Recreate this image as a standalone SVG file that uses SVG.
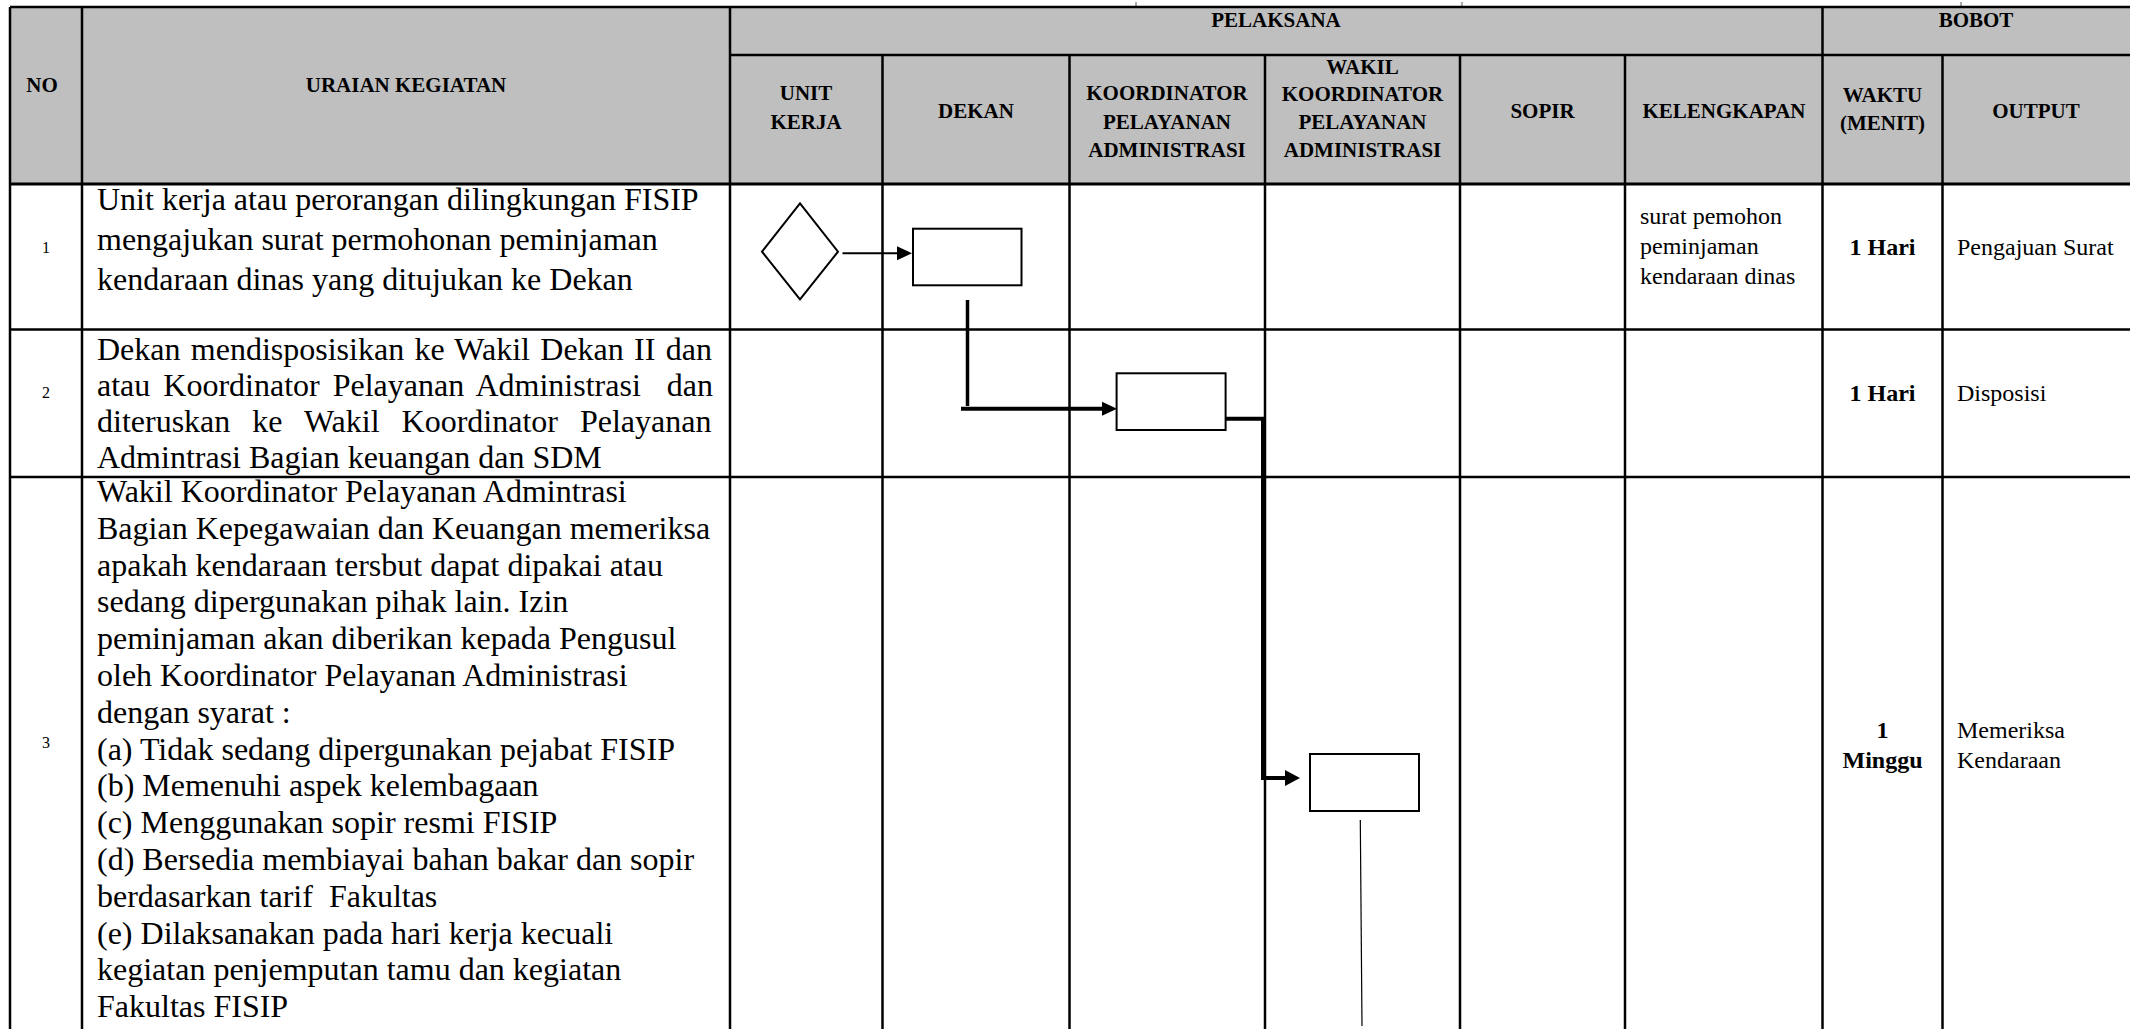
<svg xmlns="http://www.w3.org/2000/svg" width="2130" height="1029" viewBox="0 0 2130 1029">
<style>
.grid{stroke:#000;stroke-width:2.5;fill:none}
.tick{stroke:#555;stroke-width:1}
.hd{font-family:"Liberation Serif","Times New Roman",serif;font-weight:bold;font-size:21px;fill:#000;text-anchor:middle}
.body{font-family:"Liberation Serif","Times New Roman",serif;font-size:32px;fill:#000}
.num{font-family:"Liberation Serif","Times New Roman",serif;font-size:16px;fill:#000;text-anchor:middle}
.sm{font-family:"Liberation Serif","Times New Roman",serif;font-size:24px;fill:#000}
.smb{font-family:"Liberation Serif","Times New Roman",serif;font-size:24px;font-weight:bold;fill:#000;text-anchor:middle}
.shape{fill:#fff;stroke:#000;stroke-width:2}
.conn{stroke:#000;fill:none}
</style>
<rect x="0" y="0" width="2130" height="1029" fill="#fff"/>
<g id="table">
<rect x="10" y="7" width="2120" height="177" fill="#bfbfbf"/>
<line class="tick" x1="1136" y1="2" x2="1136" y2="7"/>
<line class="tick" x1="1462" y1="2" x2="1462" y2="7"/>
<line class="tick" x1="1961" y1="2" x2="1961" y2="7"/>
<line class="grid" x1="10" y1="7" x2="2130" y2="7"/>
<line class="grid" x1="730" y1="55" x2="2130" y2="55"/>
<line class="grid" x1="10" y1="184" x2="2130" y2="184" style="stroke-width:3"/>
<line class="grid" x1="10" y1="329.5" x2="2130" y2="329.5"/>
<line class="grid" x1="10" y1="477" x2="2130" y2="477"/>
<line class="grid" x1="10" y1="7" x2="10" y2="1029"/>
<line class="grid" x1="82" y1="7" x2="82" y2="1029"/>
<line class="grid" x1="730" y1="7" x2="730" y2="1029"/>
<line class="grid" x1="882.5" y1="55" x2="882.5" y2="1029"/>
<line class="grid" x1="1069.5" y1="55" x2="1069.5" y2="1029"/>
<line class="grid" x1="1265" y1="55" x2="1265" y2="1029"/>
<line class="grid" x1="1460" y1="55" x2="1460" y2="1029"/>
<line class="grid" x1="1625" y1="55" x2="1625" y2="1029"/>
<line class="grid" x1="1822.5" y1="7" x2="1822.5" y2="1029"/>
<line class="grid" x1="1942.5" y1="55" x2="1942.5" y2="1029"/>
</g>
<g id="header">
<text class="hd" x="42" y="92">NO</text>
<text class="hd" x="406" y="92">URAIAN KEGIATAN</text>
<text class="hd" x="1276" y="27">PELAKSANA</text>
<text class="hd" x="1976" y="27">BOBOT</text>
<text class="hd" x="806" y="100">UNIT</text>
<text class="hd" x="806" y="129">KERJA</text>
<text class="hd" x="976" y="118">DEKAN</text>
<text class="hd" x="1167" y="100">KOORDINATOR</text>
<text class="hd" x="1167" y="129">PELAYANAN</text>
<text class="hd" x="1167" y="157">ADMINISTRASI</text>
<text class="hd" x="1362.5" y="74">WAKIL</text>
<text class="hd" x="1362.5" y="101">KOORDINATOR</text>
<text class="hd" x="1362.5" y="129">PELAYANAN</text>
<text class="hd" x="1362.5" y="157">ADMINISTRASI</text>
<text class="hd" x="1542.5" y="118">SOPIR</text>
<text class="hd" x="1724" y="118">KELENGKAPAN</text>
<text class="hd" x="1882.5" y="102">WAKTU</text>
<text class="hd" x="1882.5" y="130">(MENIT)</text>
<text class="hd" x="2036" y="118">OUTPUT</text>
</g>
<g id="row1">
<text class="num" x="46" y="253">1</text>
<text class="body" x="97" y="210">Unit kerja atau perorangan dilingkungan FISIP</text>
<text class="body" x="97" y="250">mengajukan surat permohonan peminjaman</text>
<text class="body" x="97" y="290">kendaraan dinas yang ditujukan ke Dekan</text>
<text class="sm" x="1640" y="224">surat pemohon</text>
<text class="sm" x="1640" y="254">peminjaman</text>
<text class="sm" x="1640" y="284">kendaraan dinas</text>
<text class="smb" x="1882.5" y="255">1 Hari</text>
<text class="sm" x="1957" y="255">Pengajuan Surat</text>
</g>
<g id="row2">
<text class="num" x="46" y="398">2</text>
<text class="body" x="97" y="360" word-spacing="2.3">Dekan mendisposisikan ke Wakil Dekan II dan</text>
<text class="body" x="97" y="396" word-spacing="5" xml:space="preserve">atau Koordinator Pelayanan Administrasi  dan</text>
<text class="body" x="97" y="432" word-spacing="14">diteruskan ke Wakil Koordinator Pelayanan</text>
<text class="body" x="97" y="468">Admintrasi Bagian keuangan dan SDM</text>
<text class="smb" x="1882.5" y="401">1 Hari</text>
<text class="sm" x="1957" y="401">Disposisi</text>
</g>
<g id="row3">
<text class="num" x="46" y="748">3</text>
<text class="body" x="97" y="502">Wakil Koordinator Pelayanan Admintrasi</text>
<text class="body" x="97" y="538.8">Bagian Kepegawaian dan Keuangan memeriksa</text>
<text class="body" x="97" y="575.6">apakah kendaraan tersbut dapat dipakai atau</text>
<text class="body" x="97" y="612.4">sedang dipergunakan pihak lain. Izin</text>
<text class="body" x="97" y="649.2">peminjaman akan diberikan kepada Pengusul</text>
<text class="body" x="97" y="686">oleh Koordinator Pelayanan Administrasi</text>
<text class="body" x="97" y="722.8">dengan syarat :</text>
<text class="body" x="97" y="759.6">(a) Tidak sedang dipergunakan pejabat FISIP</text>
<text class="body" x="97" y="796.4">(b) Memenuhi aspek kelembagaan</text>
<text class="body" x="97" y="833.2">(c) Menggunakan sopir resmi FISIP</text>
<text class="body" x="97" y="870">(d) Bersedia membiayai bahan bakar dan sopir</text>
<text class="body" x="97" y="906.8" xml:space="preserve">berdasarkan tarif  Fakultas</text>
<text class="body" x="97" y="943.6">(e) Dilaksanakan pada hari kerja kecuali</text>
<text class="body" x="97" y="980.4">kegiatan penjemputan tamu dan kegiatan</text>
<text class="body" x="97" y="1017.2">Fakultas FISIP</text>
<text class="smb" x="1882.5" y="738">1</text>
<text class="smb" x="1882.5" y="768">Minggu</text>
<text class="sm" x="1957" y="738">Memeriksa</text>
<text class="sm" x="1957" y="768">Kendaraan</text>
</g>
<g id="node-start"><polygon class="shape" points="762,251.7 800,203.3 838,251.7 800,299.3"/></g>
<g id="node-dekan"><rect class="shape" x="913" y="228.7" width="108.5" height="56.6"/></g>
<g id="node-koordinator"><rect class="shape" x="1116.6" y="373.3" width="109" height="56.7"/></g>
<g id="node-wakil"><rect class="shape" x="1310" y="754" width="109" height="57"/></g>
<g id="connectors">
<line class="conn" x1="842.5" y1="253.3" x2="898" y2="253.3" stroke-width="2"/>
<polygon points="897,246.3 912,253.3 897,260.3" fill="#000"/>
<line class="conn" x1="967.5" y1="300" x2="967.5" y2="406" stroke-width="3.5"/>
<line class="conn" x1="961" y1="408.7" x2="1104" y2="408.7" stroke-width="4"/>
<polygon points="1102,401.7 1117,408.7 1102,415.7" fill="#000"/>
<polyline class="conn" points="1225.5,418.7 1263,418.7 1263,778 1287,778" stroke-width="4"/>
<polygon points="1285,770 1300,778 1285,786" fill="#000"/>
<line class="conn" x1="1360.3" y1="820" x2="1362" y2="1026" stroke-width="1.2" stroke="#444"/>
</g>
</svg>
